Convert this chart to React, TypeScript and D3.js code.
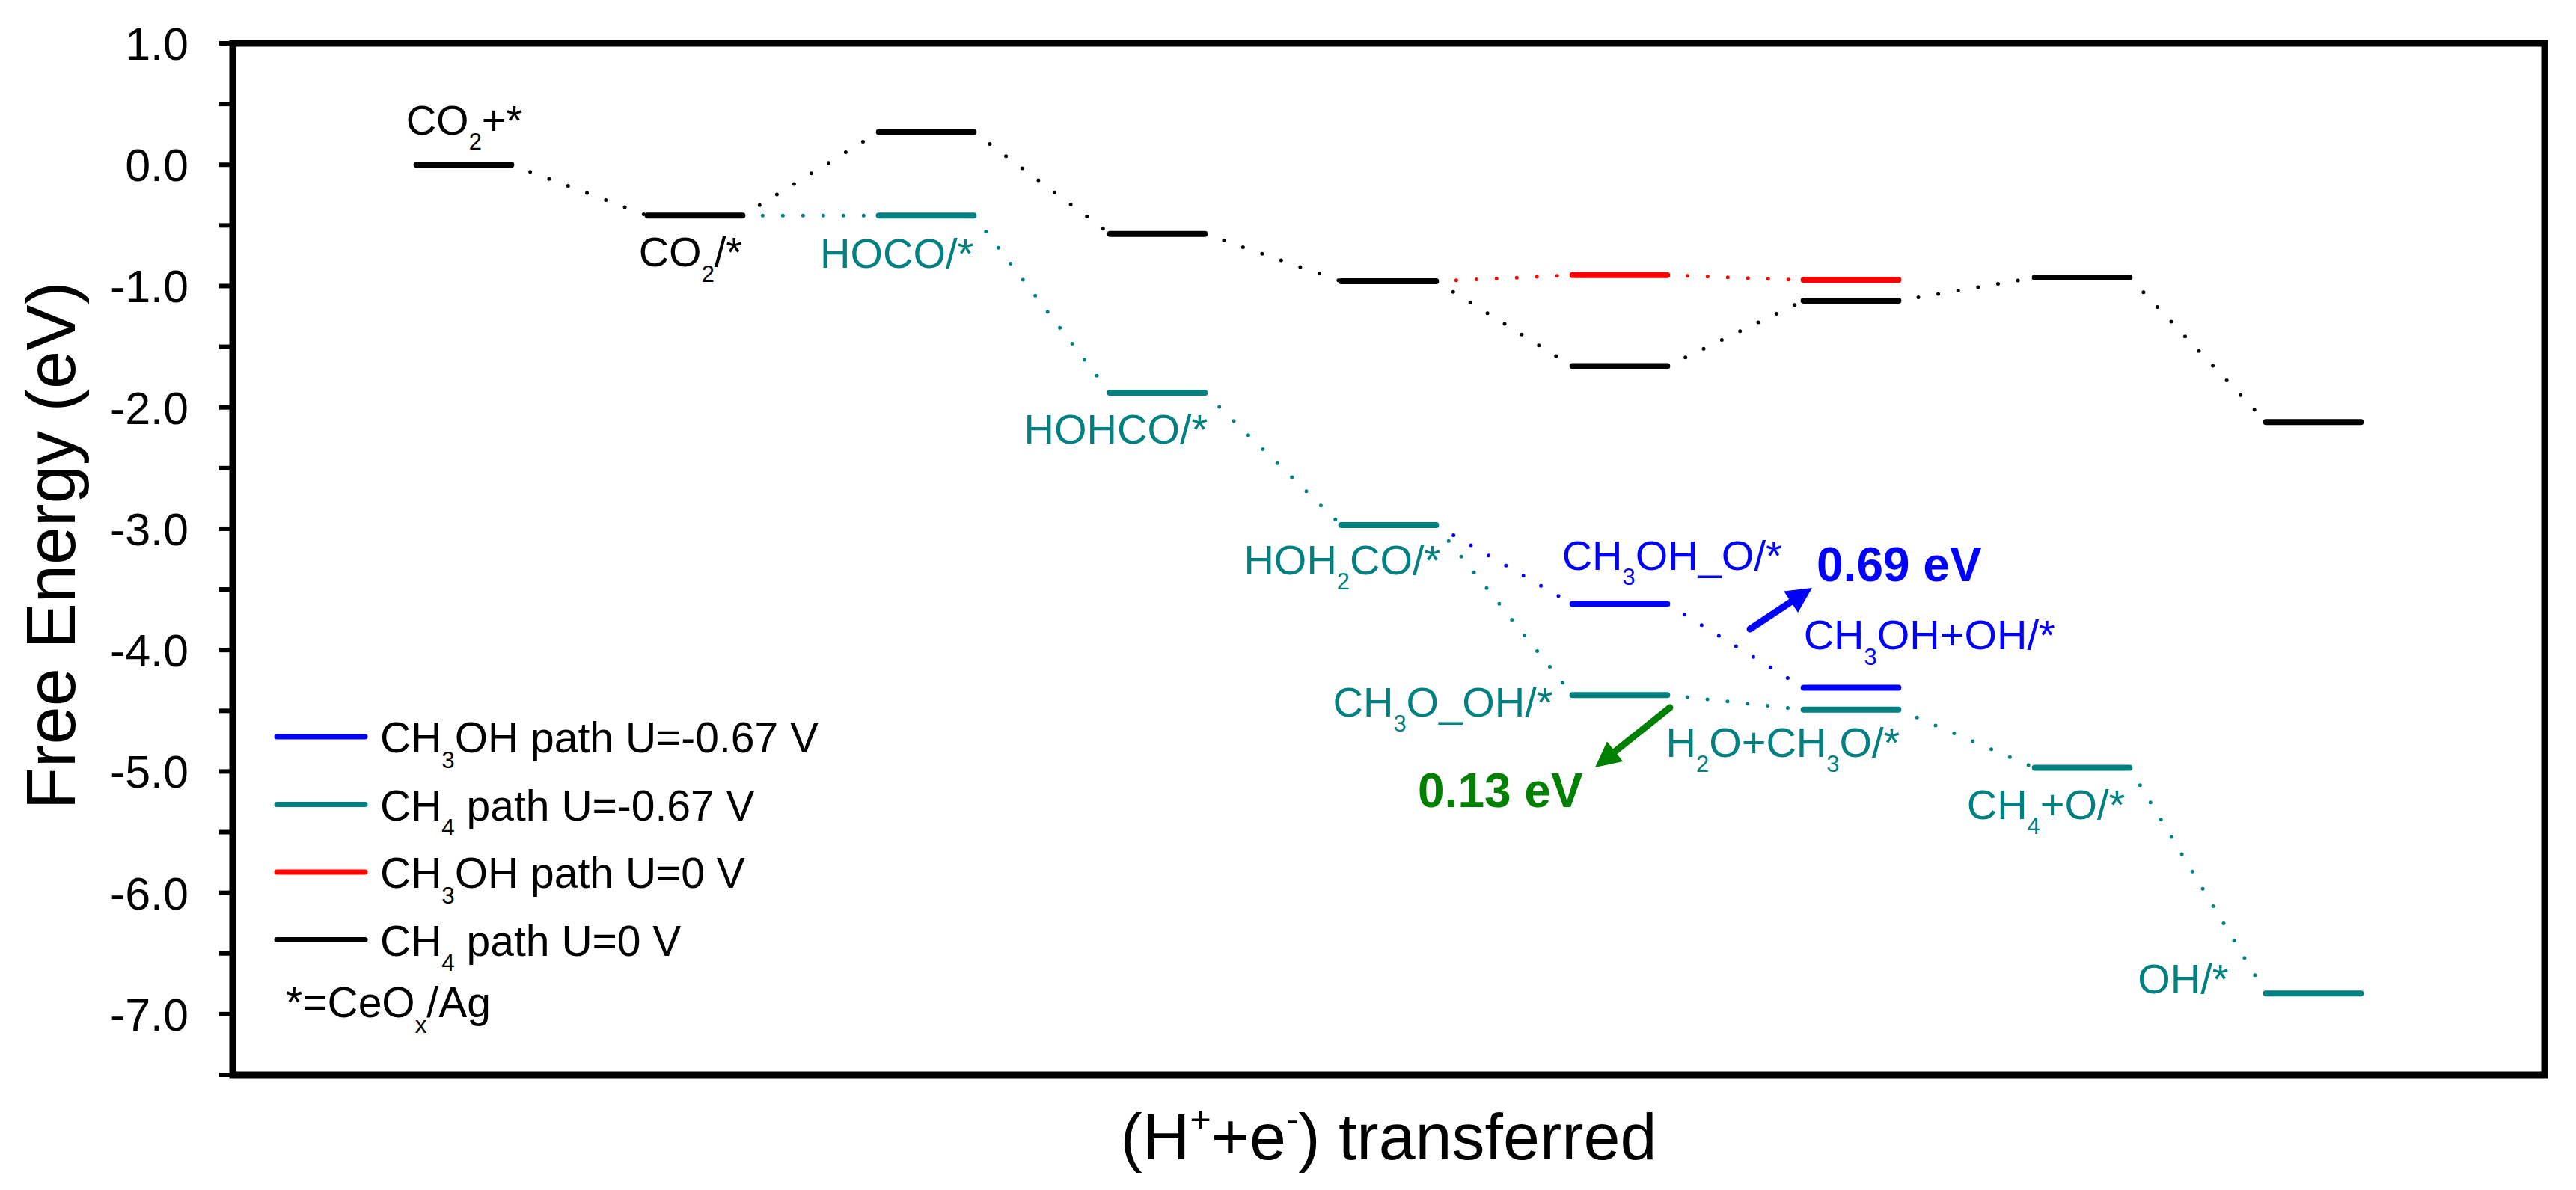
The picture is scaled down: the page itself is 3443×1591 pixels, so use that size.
import React from "react";
import * as d3 from "d3";

// ---------- data ----------
const steps = [0, 1, 2, 3, 4, 5, 6, 7, 8];
// CH4 path U=0 V (black)
const ch4U0Values = [0.0, -0.42, 0.27, -0.57, -0.96, -1.66, -1.12, -0.93, -2.12];
// CH3OH path U=0 V (red), branching from black step 4
const ch3ohU0Steps = [5, 6];
const ch3ohU0Values = [-0.91, -0.95];
// CH4 path U=-0.67 V (teal), branching from black step 1
const ch4UmSteps = [2, 3, 4, 5, 6, 7, 8];
const ch4UmValues = [-0.42, -1.88, -2.97, -4.37, -4.49, -4.97, -6.83];
// CH3OH path U=-0.67 V (blue), branching from teal step 4
const ch3ohUmSteps = [5, 6];
const ch3ohUmValues = [-3.62, -4.31];

const yMajorTicks = [1, 0, -1, -2, -3, -4, -5, -6, -7];
const yMinorTicks = [0.5, -0.5, -1.5, -2.5, -3.5, -4.5, -5.5, -6.5, -7.5];

const legendLabels = [
  [{ t: "CH" }, { t: "3", sub: true }, { t: "OH path U=-0.67 V" }],
  [{ t: "CH" }, { t: "4", sub: true }, { t: " path U=-0.67 V" }],
  [{ t: "CH" }, { t: "3", sub: true }, { t: "OH path U=0 V" }],
  [{ t: "CH" }, { t: "4", sub: true }, { t: " path U=0 V" }],
];
const legendNote = [{ t: "*=CeO" }, { t: "x", sub: true }, { t: "/Ag" }];

const BLACK = "#000000";
const TEAL = "#008080";
const RED = "#ff0000";
const BLUE = "#0000ff";
const GREEN = "#008000";
const legendColors = [BLUE, TEAL, RED, BLACK];

const FONT = "'Liberation Sans', Arial, Helvetica, sans-serif";

// ---------- layout ----------
const W = 3443;
const H = 1591;
const plot = { left: 311, right: 3401, top: 58, bottom: 1437 };
const HW = 0.205; // half width of a level, in step units

const x = d3.scaleLinear().domain([-1, 9]).range([plot.left, plot.right]);
const y = d3.scaleLinear().domain([-7.5, 1.0]).range([plot.bottom, plot.top]);

type Part = { t: string; sub?: boolean; sup?: boolean };

function Rich({ px, py, parts, size, color, anchor = "start", weight = "normal" }:
  { px: number; py: number; parts: Part[]; size: number; color: string; anchor?: string; weight?: string }) {
  const small = size * 0.55;
  const subShift = size * 0.36;
  const supShift = -size * 0.42;
  let cur = 0;
  return (
    <text x={px} y={py} fontSize={size} fill={color} textAnchor={anchor} fontFamily={FONT} fontWeight={weight}>
      {parts.map((p, i) => {
        const target = p.sub ? subShift : p.sup ? supShift : 0;
        const dy = target - cur;
        cur = target;
        return (
          <tspan key={i} dy={dy} fontSize={p.sub || p.sup ? small : size}>
            {p.t}
          </tspan>
        );
      })}
    </text>
  );
}

type Series = { steps: number[]; values: number[]; color: string; from?: [number, number] };

const series: Series[] = [
  { steps: steps, values: ch4U0Values, color: BLACK },
  { steps: ch3ohU0Steps, values: ch3ohU0Values, color: RED, from: [4, ch4U0Values[4]] },
  { steps: ch4UmSteps, values: ch4UmValues, color: TEAL, from: [1, ch4U0Values[1]] },
  { steps: ch3ohUmSteps, values: ch3ohUmValues, color: BLUE, from: [4, ch4UmValues[2]] },
];

function Arrow({ x1, y1, x2, y2, color }: { x1: number; y1: number; x2: number; y2: number; color: string }) {
  const ang = Math.atan2(y2 - y1, x2 - x1);
  const hl = 34, hw = 17;
  const bx = x2 - hl * Math.cos(ang), by = y2 - hl * Math.sin(ang);
  const nx = -Math.sin(ang), ny = Math.cos(ang);
  const pts = `${x2},${y2} ${bx + nx * hw},${by + ny * hw} ${bx - nx * hw},${by - ny * hw}`;
  return (
    <g>
      <line x1={x1} y1={y1} x2={bx + 4 * Math.cos(ang)} y2={by + 4 * Math.sin(ang)} stroke={color} strokeWidth={9} strokeLinecap="round" />
      <polygon points={pts} fill={color} />
    </g>
  );
}

export default function App() {
  const connectors: any[] = [];
  const levels: any[] = [];
  series.forEach((s, si) => {
    const pts: [number, number][] = s.steps.map((st, i) => [st, s.values[i]]);
    const chain = s.from ? [s.from, ...pts] : pts;
    for (let i = 1; i < chain.length; i++) {
      const [s1, v1] = chain[i - 1];
      const [s2, v2] = chain[i];
      connectors.push(
        <line key={`c${si}-${i}`} x1={x(s1 + HW)} y1={y(v1)} x2={x(s2 - HW)} y2={y(v2)}
          stroke={s.color} strokeWidth={5} strokeDasharray="0 27" strokeLinecap="round" />
      );
    }
    pts.forEach(([st, v], i) => {
      levels.push(
        <line key={`l${si}-${i}`} x1={x(st - HW)} x2={x(st + HW)} y1={y(v)} y2={y(v)}
          stroke={s.color} strokeWidth={8} strokeLinecap="round" />
      );
    });
  });

  const LS = 56;
  const yl = (v: number) => y(v);

  return (
    <svg width={W} height={H} style={{ position: "absolute", left: 0, top: 0, display: "block", background: "#fff" }}>
      <rect x={0} y={0} width={W} height={H} fill="#fff" />
      {/* ticks */}
      {yMajorTicks.map((t) => (
        <g key={`mt${t}`}>
          <line x1={plot.left - 18} x2={plot.left} y1={y(t)} y2={y(t)} stroke="#000" strokeWidth={6} />
          <text x={252} y={y(t)} dy="0.36em" fontSize={61} textAnchor="end" fontFamily={FONT}>
            {d3.format(".1f")(t).replace("−", "-")}
          </text>
        </g>
      ))}
      {yMinorTicks.map((t) => (
        <line key={`nt${t}`} x1={plot.left - 18} x2={plot.left} y1={y(t)} y2={y(t)} stroke="#000" strokeWidth={6} />
      ))}

      {connectors}
      {levels}

      {/* level labels */}
      <Rich px={x(0 - HW) - 14} py={yl(0) - 40} parts={[{ t: "CO" }, { t: "2", sub: true }, { t: "+*" }]} size={LS} color={BLACK} />
      <Rich px={x(1 - HW) - 12} py={yl(-0.42) + 68} parts={[{ t: "CO" }, { t: "2", sub: true }, { t: "/*" }]} size={LS} color={BLACK} />
      <Rich px={x(2 + HW)} py={yl(-0.42) + 70} parts={[{ t: "HOCO/*" }]} size={LS} color={TEAL} anchor="end" />
      <Rich px={x(3 + HW) + 4} py={yl(-1.88) + 68} parts={[{ t: "HOHCO/*" }]} size={LS} color={TEAL} anchor="end" />
      <Rich px={x(4 + HW) + 6} py={yl(-2.97) + 66} parts={[{ t: "HOH" }, { t: "2", sub: true }, { t: "CO/*" }]} size={LS} color={TEAL} anchor="end" />
      <Rich px={x(5 - HW) - 14} py={yl(-3.62) - 46} parts={[{ t: "CH" }, { t: "3", sub: true }, { t: "OH_O/*" }]} size={LS} color={BLUE} />
      <Rich px={x(6 - HW)} py={yl(-4.31) - 51} parts={[{ t: "CH" }, { t: "3", sub: true }, { t: "OH+OH/*" }]} size={LS} color={BLUE} />
      <Rich px={x(5 - HW) - 26} py={yl(-4.37) + 29} parts={[{ t: "CH" }, { t: "3", sub: true }, { t: "O_OH/*" }]} size={LS} color={TEAL} anchor="end" />
      <Rich px={x(6 + HW) + 2} py={yl(-4.49) + 63} parts={[{ t: "H" }, { t: "2", sub: true }, { t: "O+CH" }, { t: "3", sub: true }, { t: "O/*" }]} size={LS} color={TEAL} anchor="end" />
      <Rich px={x(7 + HW) - 6} py={yl(-4.97) + 68} parts={[{ t: "CH" }, { t: "4", sub: true }, { t: "+O/*" }]} size={LS} color={TEAL} anchor="end" />
      <Rich px={x(8 - HW) - 50} py={yl(-6.83)} parts={[{ t: "OH/*" }]} size={LS} color={TEAL} anchor="end" />

      {/* energy annotations */}
      <Arrow x1={2339} y1={841} x2={2422} y2={786} color={BLUE} />
      <Rich px={2428} py={777} parts={[{ t: "0.69 eV" }]} size={64} color={BLUE} weight="bold" />
      <Arrow x1={2232} y1={946} x2={2132} y2={1026} color={GREEN} />
      <Rich px={1895} py={1079} parts={[{ t: "0.13 eV" }]} size={64} color={GREEN} weight="bold" />

      {/* legend */}
      {legendLabels.map((lab, i) => (
        <g key={`lg${i}`}>
          <line x1={370} x2={488} y1={985 + i * 90.5} y2={985 + i * 90.5} stroke={legendColors[i]} strokeWidth={7} strokeLinecap="round" />
          <Rich px={508} py={1006 + i * 90.5} parts={lab} size={57} color={BLACK} />
        </g>
      ))}
      <Rich px={382} py={1360} parts={legendNote} size={57} color={BLACK} />

      {/* frame */}
      <rect x={plot.left} y={plot.top} width={plot.right - plot.left} height={plot.bottom - plot.top}
        fill="none" stroke="#000" strokeWidth={9} />

      {/* axis titles */}
      <text transform={`translate(100, ${(plot.top + plot.bottom) / 2 - 18}) rotate(-90)`} fontSize={92}
        textAnchor="middle" fontFamily={FONT}>Free Energy (eV)</text>
      <Rich px={(plot.left + plot.right) / 2} py={1550}
        parts={[{ t: "(H" }, { t: "+", sup: true }, { t: "+e" }, { t: "-", sup: true }, { t: ") transferred" }]}
        size={88} color={BLACK} anchor="middle" />
    </svg>
  );
}
